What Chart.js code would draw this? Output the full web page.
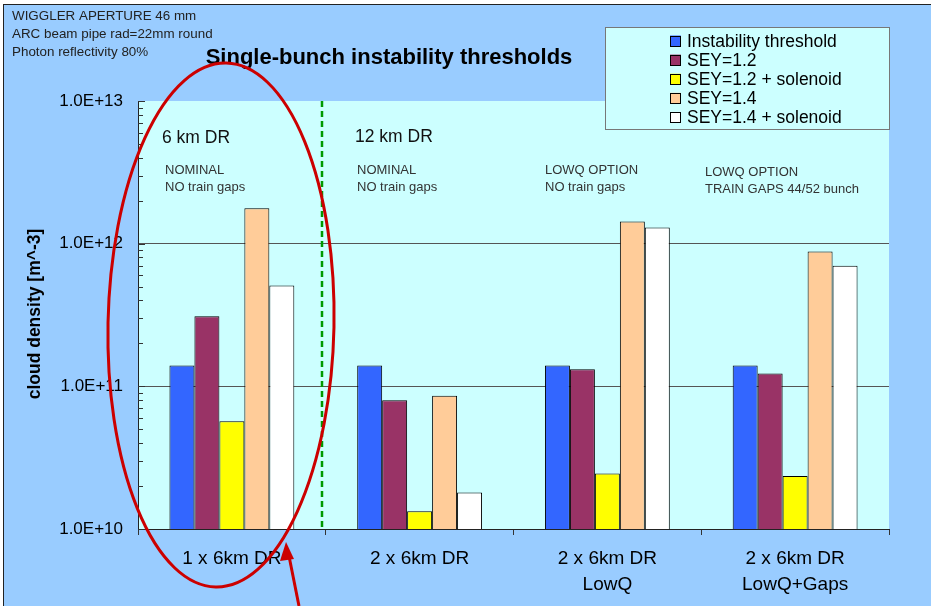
<!DOCTYPE html>
<html><head><meta charset="utf-8">
<script src="https://cdn.jsdelivr.net/npm/chart.js@4/dist/chart.umd.min.js"></script>
<style>html,body{margin:0;padding:0;background:#fff}#wrap{width:931px;height:606px}</style>
</head><body><div id="wrap"><canvas id="c" width="931" height="606"></canvas></div>
<script>
const categories = [["1 x 6km DR"], ["2 x 6km DR"], ["2 x 6km DR", "LowQ"], ["2 x 6km DR", "LowQ+Gaps"]];
const seriesNames = ["Instability threshold", "SEY=1.2", "SEY=1.2 + solenoid", "SEY=1.4", "SEY=1.4 + solenoid"];
const instability = [1.4e11, 1.4e11, 1.4e11, 1.4e11];
const sey12 = [3.1e11, 8.0e10, 1.32e11, 1.23e11];
const sey12sol = [5.7e10, 1.33e10, 2.45e10, 2.35e10];
const sey14 = [1.77e12, 8.6e10, 1.43e12, 8.8e11];
const sey14sol = [5.1e11, 1.8e10, 1.30e12, 7.0e11];
const decades = [1e10, 1e11, 1e12, 1e13];
const decadeLabels = ["1.0E+10", "1.0E+11", "1.0E+12", "1.0E+13"];
const colors = ["#3366FF", "#993366", "#FFFF00", "#FFCC99", "#FFFFFF"];
const headerLines = ["WIGGLER APERTURE 46 mm", "ARC beam pipe rad=22mm round", "Photon reflectivity 80%"];
const groupTitles = ["6 km DR", "12 km DR"];
const groupNotes = [["NOMINAL", "NO train gaps"], ["NOMINAL", "NO train gaps"], ["LOWQ OPTION", "NO train gaps"], ["LOWQ OPTION", "TRAIN GAPS 44/52 bunch"]];

const allSeries = [instability, sey12, sey12sol, sey14, sey14sol];
const FONT = 'Arial, "Liberation Sans"';

const bgPlugin = {
  id: 'bg',
  beforeDraw(chart) {
    const ctx = chart.ctx, a = chart.chartArea;
    ctx.save();
    ctx.fillStyle = '#ffffff';
    ctx.fillRect(0, 0, chart.width, chart.height);
    ctx.fillStyle = '#99CCFF';
    ctx.fillRect(3, 4, chart.width, chart.height);
    ctx.strokeStyle = '#222';
    ctx.lineWidth = 1;
    ctx.strokeRect(3.5, 4.5, chart.width + 10, chart.height + 10);
    ctx.fillStyle = '#CCFFFF';
    ctx.fillRect(a.left, a.top, a.right - a.left, a.bottom - a.top);
    ctx.restore();
  },
  afterDraw(chart) {
    const ctx = chart.ctx, a = chart.chartArea, y = chart.scales.y;
    ctx.save();
    // minor ticks inside
    ctx.strokeStyle = '#333';
    ctx.lineWidth = 1;
    for (let d = 0; d < decades.length; d++) {
      const py = Math.round(y.getPixelForValue(decades[d])) + 0.5;
      ctx.beginPath(); ctx.moveTo(a.left, py); ctx.lineTo(a.left + 7, py); ctx.stroke();
      if (d < decades.length - 1) {
        for (let m = 2; m <= 9; m++) {
          const p = Math.round(y.getPixelForValue(decades[d] * m)) + 0.5;
          ctx.beginPath(); ctx.moveTo(a.left, p); ctx.lineTo(a.left + 5, p); ctx.stroke();
        }
      }
    }
    // header text
    ctx.fillStyle = '#222';
    ctx.font = '13.4px ' + FONT;
    ctx.textBaseline = 'middle';
    ctx.textAlign = 'left';
    headerLines.forEach((t, i) => ctx.fillText(t, 12, 16 + i * 18));
    // title
    ctx.fillStyle = '#000';
    ctx.font = 'bold 22px ' + FONT;
    ctx.textAlign = 'center';
    ctx.fillText('Single-bunch instability thresholds', 389, 58);
    // y title
    ctx.save();
    ctx.translate(35, 314);
    ctx.rotate(-Math.PI / 2);
    ctx.font = 'bold 17.5px ' + FONT;
    ctx.fillText('cloud density [m^-3]', 0, 0);
    ctx.restore();
    // group titles
    ctx.textAlign = 'left';
    ctx.font = '17.5px ' + FONT;
    ctx.fillStyle = '#111';
    ctx.fillText(groupTitles[0], 162, 138);
    ctx.fillText(groupTitles[1], 355, 137);
    ctx.font = '13px ' + FONT;
    ctx.fillStyle = '#333';
    const noteX = [165, 357, 545, 705];
    const noteY = [170, 170, 170, 172];
    groupNotes.forEach((n, i) => {
      ctx.fillText(n[0], noteX[i], noteY[i]);
      ctx.fillText(n[1], noteX[i], noteY[i] + 17);
    });
    // green dashed separator
    ctx.strokeStyle = '#009900';
    ctx.lineWidth = 2.5;
    ctx.setLineDash([6, 4]);
    ctx.beginPath(); ctx.moveTo(322, a.top); ctx.lineTo(322, a.bottom); ctx.stroke();
    ctx.setLineDash([]);
    // legend
    ctx.fillStyle = '#CCFFFF';
    ctx.fillRect(605, 27, 284, 102);
    ctx.strokeStyle = '#777';
    ctx.lineWidth = 1;
    ctx.strokeRect(605.5, 27.5, 284, 102);
    ctx.font = '17.5px ' + FONT;
    ctx.textAlign = 'left';
    seriesNames.forEach((n, i) => {
      const cy = 41 + i * 19.1;
      ctx.fillStyle = colors[i];
      ctx.fillRect(670, cy - 5.5, 11, 11);
      ctx.strokeStyle = '#000';
      ctx.strokeRect(670.5, Math.round(cy - 5.5) + 0.5, 10, 10);
      ctx.fillStyle = '#000';
      ctx.fillText(n, 687, cy + 1);
    });
    // red ellipse
    ctx.strokeStyle = '#CC0000';
    ctx.lineWidth = 3;
    ctx.beginPath();
    ctx.ellipse(221, 325, 113, 262, 0.02, 0, Math.PI * 2);
    ctx.stroke();
    // arrow
    ctx.beginPath(); ctx.moveTo(299, 606); ctx.lineTo(289, 556); ctx.stroke();
    ctx.fillStyle = '#CC0000';
    ctx.beginPath();
    ctx.moveTo(286, 542); ctx.lineTo(280, 561); ctx.lineTo(294, 559); ctx.closePath(); ctx.fill();
    ctx.restore();
  }
};

new Chart(document.getElementById('c'), {
  type: 'bar',
  data: {
    labels: categories,
    datasets: allSeries.map((s, i) => ({
      label: seriesNames[i], data: s, backgroundColor: colors[i],
      borderColor: '#000', borderWidth: 1, borderSkipped: 'bottom',
      categoryPercentage: 0.665, barPercentage: 1.0
    }))
  },
  options: {
    responsive: false, animation: false,
    layout: { padding: { left: 0, right: 42, top: 101, bottom: 0 } },
    plugins: { legend: { display: false }, title: { display: false }, tooltip: { enabled: false } },
    scales: {
      x: {
        grid: { drawOnChartArea: false, tickLength: 6, color: '#333', offset: true },
        border: { color: '#222', width: 1 },
        ticks: { color: '#000', font: { family: FONT, size: 19, lineHeight: 1.37 }, padding: 11, maxRotation: 0 },
        afterFit(s) { s.height = 77; }
      },
      y: {
        type: 'logarithmic', min: 1e10, max: 1e13,
        afterBuildTicks(s) { s.ticks = decades.map(v => ({ value: v, major: true })); },
        grid: {
          drawTicks: false,
          color(ctx) { const v = ctx.tick && ctx.tick.value; return (v === 1e11 || v === 1e12) ? '#555' : 'rgba(0,0,0,0)'; }
        },
        border: { color: '#222', width: 1 },
        ticks: {
          color: '#000', padding: 15, font: { family: FONT, size: 17 },
          callback(v) { const i = decades.indexOf(v); return i >= 0 ? decadeLabels[i] : ''; }
        },
        afterFit(s) { s.width = 138; }
      }
    }
  },
  plugins: [bgPlugin]
});
</script>
</body></html>
